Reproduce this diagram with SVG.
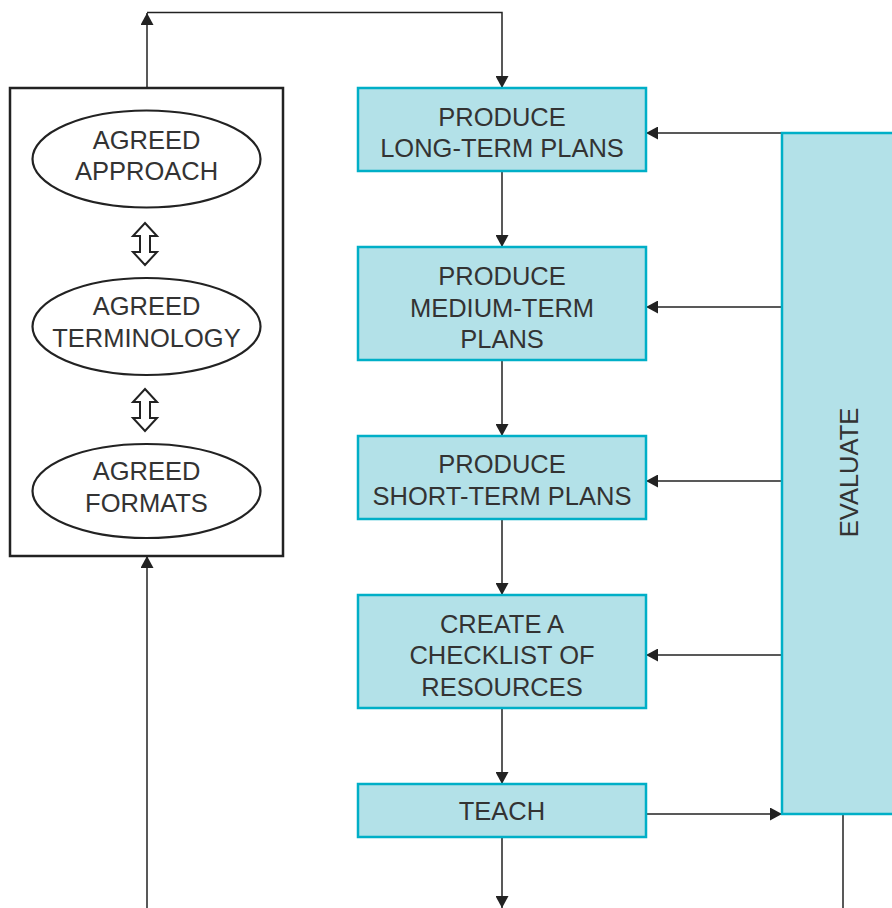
<svg xmlns="http://www.w3.org/2000/svg" width="892" height="908" viewBox="0 0 892 908">
<style>
  .box { fill: #b3e1e8; stroke: #00afc7; stroke-width: 2.5; }
  .frame { fill: #ffffff; stroke: #222222; stroke-width: 2.5; }
  .oval { fill: #ffffff; stroke: #222222; stroke-width: 2.2; }
  .dbl { fill: #ffffff; stroke: #222222; stroke-width: 2; stroke-linejoin: miter; }
  .lbl { font-family: "Liberation Sans", Arial, sans-serif; font-size: 25.5px; fill: #333333; text-anchor: middle; }
  .conn { fill: none; stroke: #222222; stroke-width: 1.5; }
</style>
<defs>
  <marker id="ah" markerUnits="userSpaceOnUse" markerWidth="13" markerHeight="13" refX="12" refY="6.5" orient="auto" viewBox="0 0 13 13">
    <path d="M0,0 L12,6.5 L0,13 Z" fill="#222222"/>
  </marker>
</defs>

<rect x="0" y="0" width="892" height="908" fill="#ffffff"/>

<g id="connectors">
  <path class="conn" d="M147,88 V13" marker-end="url(#ah)"/>
  <path class="conn" d="M147,12.5 H502 V88" marker-end="url(#ah)"/>
  <path class="conn" d="M502,171 V247" marker-end="url(#ah)"/>
  <path class="conn" d="M502,360 V436" marker-end="url(#ah)"/>
  <path class="conn" d="M502,519 V595" marker-end="url(#ah)"/>
  <path class="conn" d="M502,708 V784" marker-end="url(#ah)"/>
  <path class="conn" d="M502,837 V908" marker-end="url(#ah)"/>
  <path class="conn" d="M782,133 H646" marker-end="url(#ah)"/>
  <path class="conn" d="M782,307 H646" marker-end="url(#ah)"/>
  <path class="conn" d="M782,481 H646" marker-end="url(#ah)"/>
  <path class="conn" d="M782,655 H646" marker-end="url(#ah)"/>
  <path class="conn" d="M646,814 H782" marker-end="url(#ah)"/>
  <path class="conn" d="M843,814 V908"/>
  <path class="conn" d="M147,908 V556" marker-end="url(#ah)"/>
</g>

<g id="agreed-group">
  <rect class="frame" x="10" y="88" width="273" height="468"/>
</g>

<g id="agreed-approach">
  <ellipse class="oval" cx="146.5" cy="159" rx="114" ry="48.5"/>
  <text class="lbl" x="146.5" y="149">AGREED</text>
  <text class="lbl" x="146.5" y="180">APPROACH</text>
</g>

<g id="dbl-arrow-1">
  <path class="dbl" d="M145,223 L157,236 L150,236 L150,252 L157,252 L145,265 L133,252 L140,252 L140,236 L133,236 Z"/>
</g>

<g id="agreed-terminology">
  <ellipse class="oval" cx="146.5" cy="326.5" rx="114" ry="48.5"/>
  <text class="lbl" x="146.5" y="315">AGREED</text>
  <text class="lbl" x="146.5" y="347">TERMINOLOGY</text>
</g>

<g id="dbl-arrow-2">
  <path class="dbl" d="M145,389 L157,402 L150,402 L150,418 L157,418 L145,431 L133,418 L140,418 L140,402 L133,402 Z"/>
</g>

<g id="agreed-formats">
  <ellipse class="oval" cx="146.5" cy="491" rx="114" ry="47"/>
  <text class="lbl" x="146.5" y="480">AGREED</text>
  <text class="lbl" x="146.5" y="512">FORMATS</text>
</g>

<g id="long-term">
  <rect class="box" x="358" y="88" width="288" height="83"/>
  <text class="lbl" x="502" y="126">PRODUCE</text>
  <text class="lbl" x="502" y="157">LONG-TERM PLANS</text>
</g>

<g id="medium-term">
  <rect class="box" x="358" y="247" width="288" height="113"/>
  <text class="lbl" x="502" y="285">PRODUCE</text>
  <text class="lbl" x="502" y="317">MEDIUM-TERM</text>
  <text class="lbl" x="502" y="348">PLANS</text>
</g>

<g id="short-term">
  <rect class="box" x="358" y="436" width="288" height="83"/>
  <text class="lbl" x="502" y="473">PRODUCE</text>
  <text class="lbl" x="502" y="505">SHORT-TERM PLANS</text>
</g>

<g id="checklist">
  <rect class="box" x="358" y="595" width="288" height="113"/>
  <text class="lbl" x="502" y="633">CREATE A</text>
  <text class="lbl" x="502" y="664">CHECKLIST OF</text>
  <text class="lbl" x="502" y="696">RESOURCES</text>
</g>

<g id="teach">
  <rect class="box" x="358" y="784" width="288" height="53"/>
  <text class="lbl" x="502" y="820">TEACH</text>
</g>

<g id="evaluate">
  <rect class="box" x="782" y="133" width="120" height="681"/>
  <text class="lbl" x="858" y="472.5" transform="rotate(-90 858 472.5)">EVALUATE</text>
</g>
</svg>
